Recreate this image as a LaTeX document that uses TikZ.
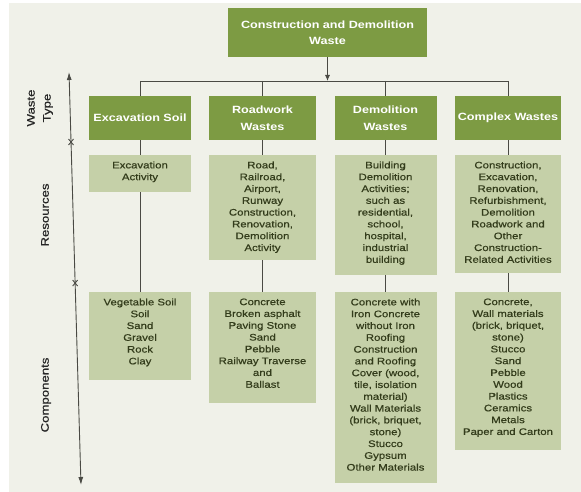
\documentclass[tikz,border=0pt]{standalone}
\usepackage{fontspec}
\setmainfont[FakeStretch=1.2]{Liberation Sans}
\newfontfamily\heavyfont[FakeStretch=1.2,FakeBold=0.6]{Liberation Sans}
\usetikzlibrary{arrows.meta,calc}
\definecolor{bgc}{HTML}{F0F1E9}
\definecolor{hdr}{HTML}{7D9B43}
\definecolor{lgt}{HTML}{C5D0A8}
\definecolor{txt}{HTML}{333C1B}
\definecolor{ln}{HTML}{4A4A44}
\begin{document}
\begin{tikzpicture}[x=1pt,y=-1pt,
 hbox/.style={fill=hdr, draw=none, inner sep=0pt, text=white, font=\bfseries\fontsize{10.5}{16.5}\selectfont, align=center},
 lbox/.style={fill=lgt, draw=none, inner sep=0pt},
 ltext/.style={anchor=north, inner sep=0pt, yshift=-6.5pt, text=txt, font=\heavyfont\fontsize{9.5}{11.8}\selectfont, align=center},
 conn/.style={draw=ln, line width=0.9pt},
 axlabel/.style={rotate=90, inner sep=0pt, font=\heavyfont\fontsize{11}{16}\selectfont, text=black!85, align=center},
 axarrows/.style={{Latex[length=8pt,width=5pt]}-{Latex[length=8pt,width=5pt]}}
]
\useasboundingbox (0,0) rectangle (581,492);
\fill[white] (0,0) rectangle (581,492);
\fill[bgc] (9,3) rectangle (581,492);

% top box
\node[hbox, minimum width=199pt, minimum height=49pt] (top) at (327.5,32.5) {Construction and Demolition\\Waste};

% row 1: waste types
\node[hbox, minimum width=102pt, minimum height=44pt] (E1) at (140,118) {Excavation Soil};
\node[hbox, minimum width=107pt, minimum height=44pt] (R1) at (262.5,118) {Roadwork\\Wastes};
\node[hbox, minimum width=102pt, minimum height=44pt] (D1) at (385.5,118) {Demolition\\Wastes};
\node[hbox, minimum width=106pt, minimum height=44pt] (C1) at (508,118) {Complex Wastes};

% row 2: resources
\node[lbox, minimum width=102pt, minimum height=37pt] (E2) at (140,173.5) {};
\node[lbox, minimum width=107pt, minimum height=105pt] (R2) at (262.5,207.5) {};
\node[lbox, minimum width=102pt, minimum height=120pt] (D2) at (385.5,215) {};
\node[lbox, minimum width=106pt, minimum height=118pt] (C2) at (508,214) {};
\node[ltext] (E2t) at (E2.north) {Excavation\\Activity};
\node[ltext] (R2t) at (R2.north) {Road,\\Railroad,\\Airport,\\Runway\\Construction,\\Renovation,\\Demolition\\Activity};
\node[ltext] (D2t) at (D2.north) {Building\\Demolition\\Activities;\\such as\\residential,\\school,\\hospital,\\industrial\\building};
\node[ltext] (C2t) at (C2.north) {Construction,\\Excavation,\\Renovation,\\Refurbishment,\\Demolition\\Roadwork and\\Other\\Construction-\\Related Activities};

% row 3: components
\node[lbox, minimum width=102pt, minimum height=88pt] (E3) at (140,336) {};
\node[lbox, minimum width=107pt, minimum height=111pt] (R3) at (262.5,347.5) {};
\node[lbox, minimum width=102pt, minimum height=191pt] (D3) at (385.5,387.5) {};
\node[lbox, minimum width=106pt, minimum height=158pt] (C3) at (508,371) {};
\node[ltext] (E3t) at (E3.north) {Vegetable Soil\\Soil\\Sand\\Gravel\\Rock\\Clay};
\node[ltext] (R3t) at (R3.north) {Concrete\\Broken asphalt\\Paving Stone\\Sand\\Pebble\\Railway Traverse\\and\\Ballast};
\node[ltext] (D3t) at (D3.north) {Concrete with\\Iron Concrete\\without Iron\\Roofing\\Construction\\and Roofing\\Cover (wood,\\tile, isolation\\material)\\Wall Materials\\(brick, briquet,\\stone)\\Stucco\\Gypsum\\Other Materials};
\node[ltext] (C3t) at (C3.north) {Concrete,\\Wall materials\\(brick, briquet,\\stone)\\Stucco\\Sand\\Pebble\\Wood\\Plastics\\Ceramics\\Metals\\Paper and Carton};

% connectors
\coordinate (bar) at (0,81);
\draw[conn, -{Latex[length=6pt,width=5pt]}] (top.south) -- (top.south |- bar);
\draw[conn] (E1.north |- bar) -- (C1.north |- bar);
\foreach \n in {E1,R1,D1,C1} \draw[conn] (\n.north |- bar) -- (\n.north);
\foreach \c in {E,R,D,C} {
  \draw[conn] (\c1.south) -- (\c2.north);
  \draw[conn] (\c2.south) -- (\c3.north);
}

% axis
\coordinate (axtop) at (69,72);
\coordinate (axbot) at (81,485);
\draw[conn, axarrows] (axtop) -- (axbot);
\coordinate (tk1) at ($(axtop)!0.1695!(axbot)$);
\coordinate (tk2) at ($(axtop)!0.511!(axbot)$);
\foreach \t in {tk1,tk2} {
  \draw[conn] ([shift={(-2.5,-3)}]\t) -- ([shift={(2.5,3)}]\t);
  \draw[conn] ([shift={(2.5,-3)}]\t) -- ([shift={(-2.5,3)}]\t);
}
\node[axlabel] (lw) at (40,108) {Waste\\Type};
\node[axlabel] (lr) at (45,215) {Resources};
\node[axlabel] (lc) at (46,395) {Components};
\end{tikzpicture}
\end{document}
